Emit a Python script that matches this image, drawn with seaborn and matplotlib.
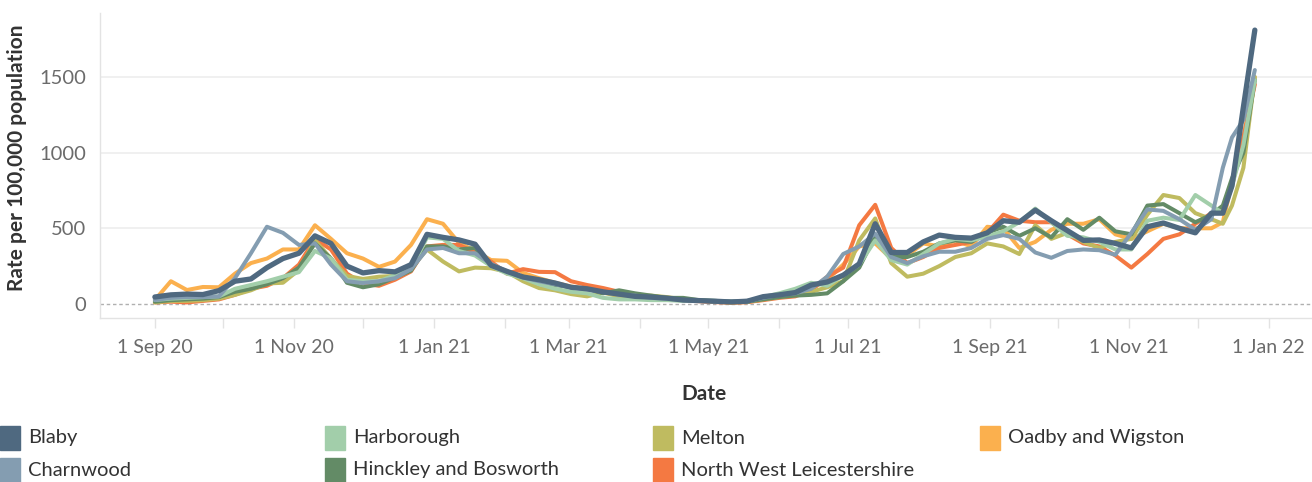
import matplotlib
matplotlib.use("Agg")
import matplotlib.pyplot as plt
import matplotlib.dates as mdates
from matplotlib.patches import Rectangle
import numpy as np
import pandas as pd
import seaborn as sns

# ---------------- data ----------------
weekly_dates = list(pd.date_range("2020-09-01", periods=67, freq="7D"))
extra_dates = list(pd.to_datetime(["2021-12-12", "2021-12-16", "2021-12-21", "2021-12-26"]))
dates = weekly_dates + extra_dates

districts = ["Blaby", "Charnwood", "Harborough", "Hinckley and Bosworth",
             "Melton", "North West Leicestershire", "Oadby and Wigston"]

blaby = [46, 60, 65, 62, 88, 150, 165, 240, 300, 335,
         450, 400, 250, 205, 220, 212, 260, 460, 440, 423,
         395, 255, 215, 178, 160, 138, 110, 100, 80, 65,
         50, 45, 38, 26, 22, 18, 13, 18, 48, 60,
         75, 125, 145, 190, 265, 530, 340, 340, 410, 455,
         440, 435, 470, 550, 540, 620, 550, 485, 420, 423,
         400, 370, 510, 535, 500, 470, 600,
         600, 780, 1302, 1810]
charnwood = [26, 40, 45, 45, 50, 170, 335, 510, 470, 390,
             400, 260, 150, 138, 150, 170, 230, 360, 370, 335,
             335, 265, 215, 175, 150, 130, 110, 95, 80, 60,
             55, 40, 35, 25, 20, 15, 15, 20, 40, 60,
             70, 100, 180, 330, 380, 465, 310, 270, 315, 345,
             345, 370, 430, 455, 430, 340, 305, 350, 360, 355,
             325, 470, 625, 615, 560, 490, 560,
             900, 1100, 1216, 1546]
harborough = [26, 35, 40, 45, 50, 100, 125, 150, 180, 210,
              350, 300, 160, 150, 150, 190, 230, 440, 430, 350,
              320, 250, 200, 170, 130, 100, 80, 70, 40, 30,
              30, 25, 25, 20, 22, 20, 15, 15, 45, 70,
              100, 140, 120, 190, 260, 420, 290, 260, 330, 400,
              430, 420, 445, 480, 540, 630, 540, 450, 440, 410,
              360, 360, 550, 570, 555, 720, 650,
              600, 780, 1050, 1480]
hinckley = [15, 25, 30, 35, 45, 80, 100, 130, 170, 240,
            400, 300, 140, 110, 130, 175, 220, 380, 380, 360,
            370, 260, 205, 180, 150, 125, 110, 100, 70, 90,
            70, 55, 40, 40, 25, 20, 15, 15, 30, 45,
            55, 60, 70, 150, 240, 450, 310, 310, 345, 400,
            420, 410, 470, 510, 450, 500, 440, 560, 490, 570,
            480, 460, 650, 660, 600, 540, 590,
            650, 830, 1000, 1480]
melton = [10, 20, 20, 25, 35, 60, 90, 135, 140, 225,
          420, 300, 185, 165, 180, 185, 235, 360, 280, 215,
          240, 236, 212, 150, 105, 90, 65, 50, 75, 50,
          50, 55, 45, 30, 25, 15, 10, 15, 30, 45,
          60, 80, 110, 150, 420, 565, 270, 180, 200, 250,
          310, 335, 400, 380, 330, 520, 430, 470, 410, 370,
          410, 430, 590, 720, 700, 600, 560,
          530, 650, 900, 1500]
nw_leics = [10, 15, 10, 20, 30, 60, 100, 120, 170, 260,
            430, 360, 200, 135, 120, 160, 215, 380, 390, 390,
            340, 280, 200, 230, 212, 210, 150, 125, 105, 80,
            60, 45, 35, 25, 18, 12, 8, 12, 25, 40,
            50, 90, 180, 240, 520, 655, 370, 270, 310, 370,
            390, 410, 470, 590, 550, 540, 540, 460, 400, 380,
            320, 240, 330, 430, 460, 530, 600,
            620, 780, 1100, 1450]
oadby = [26, 150, 92, 112, 110, 200, 270, 300, 360, 360,
         520, 430, 335, 300, 245, 280, 390, 560, 530, 403,
         350, 290, 285, 205, 170, 140, 115, 100, 85, 65,
         50, 45, 40, 30, 20, 15, 10, 12, 30, 55,
         70, 100, 160, 260, 380, 400, 300, 320, 400, 380,
         420, 380, 510, 500, 370, 410, 490, 530, 530, 560,
         460, 430, 480, 530, 500, 500, 500,
         540, 800, 1100, 1500]

series = [blaby, charnwood, harborough, hinckley, melton, nw_leics, oadby]

colors = ["#4f6980", "#849db1", "#a2ceaa", "#638b66", "#bfbb60", "#f47942", "#fbb04e"]

y_ticks = [0, 500, 1000, 1500]

frames = []
for name, vals in zip(districts, series):
    frames.append(pd.DataFrame({"Date": dates, "Rate": vals, "District": name}))
df = pd.concat(frames, ignore_index=True)

# ---------------- style ----------------
sns.set_style("white")
plt.rcParams["font.family"] = ["Lato", "DejaVu Sans"]

W, H = 1312, 482
fig = plt.figure(figsize=(W / 100, H / 100), dpi=100)
ax = fig.add_axes([100 / W, 1 - 318 / H, 1 - 100 / W, (318 - 13) / H])

palette = dict(zip(districts, colors))
sizes = {d: (3.8 if d == "Blaby" else 2.9) for d in districts}
order = list(reversed(districts))  # Blaby drawn last (on top)

sns.lineplot(data=df, x="Date", y="Rate", hue="District", size="District",
             hue_order=order, size_order=order, palette=palette, sizes=sizes,
             estimator=None, legend=False, ax=ax)
for ln in ax.lines:
    ln.set_solid_capstyle("round")
    ln.set_solid_joinstyle("round")

ax.set_ylim(-93, 1923)
ax.set_xlim(pd.Timestamp("2020-08-08"), pd.Timestamp("2022-01-20"))

ax.set_yticks(y_ticks)
ax.set_yticklabels([str(v) for v in y_ticks])
ax.yaxis.grid(True, color="#eeeeee", linewidth=1.2)
ax.yaxis.get_gridlines()[0].set_visible(False)
ax.axhline(0, color="#b0b0b0", linewidth=1.0, linestyle=(0, (2.5, 2)), zorder=0.5)
ax.set_axisbelow(True)

ax.xaxis.set_major_locator(mdates.MonthLocator(bymonth=[1, 3, 5, 7, 9, 11]))
ax.xaxis.set_major_formatter(mdates.DateFormatter("1 %b %y"))
ax.xaxis.set_minor_locator(mdates.MonthLocator())

ax.tick_params(axis="x", which="both", direction="out", length=7, width=1,
               color="#e3e3e3", bottom=True)
ax.tick_params(axis="x", which="major", labelsize=14, labelcolor="#6b6b6b", pad=8)
ax.tick_params(axis="y", length=0, labelsize=14.5, labelcolor="#6b6b6b", pad=10)

for s in ["top", "right"]:
    ax.spines[s].set_visible(False)
for s in ["left", "bottom"]:
    ax.spines[s].set_color("#e3e3e3")
    ax.spines[s].set_linewidth(1)

ax.set_xlabel("")
ax.set_ylabel("")
fig.text(17 / W, 1 - 158 / H, "Rate per 100,000 population", rotation=90,
         ha="center", va="center", fontsize=15, fontweight="bold", color="#333333")
fig.text(704 / W, 1 - 394 / H, "Date", ha="center", va="center",
         fontsize=15, fontweight="bold", color="#333333")

# ---------------- legend ----------------
col_x = [0, 325, 653, 980]
row_y = [438, 470]
legend_pos = {
    "Blaby": (0, 0), "Charnwood": (0, 1),
    "Harborough": (1, 0), "Hinckley and Bosworth": (1, 1),
    "Melton": (2, 0), "North West Leicestershire": (2, 1),
    "Oadby and Wigston": (3, 0),
}
for name in districts:
    c, r = legend_pos[name]
    x0 = col_x[c]
    yc = row_y[r]
    fig.patches.append(Rectangle((x0 / W, 1 - (yc + 12) / H), 20 / W, 24 / H,
                                 transform=fig.transFigure, color=palette[name]))
    fig.text((x0 + 28) / W, 1 - yc / H, name, ha="left", va="center",
             fontsize=14.5, color="#333333")

fig.savefig("out.png", dpi=100)
